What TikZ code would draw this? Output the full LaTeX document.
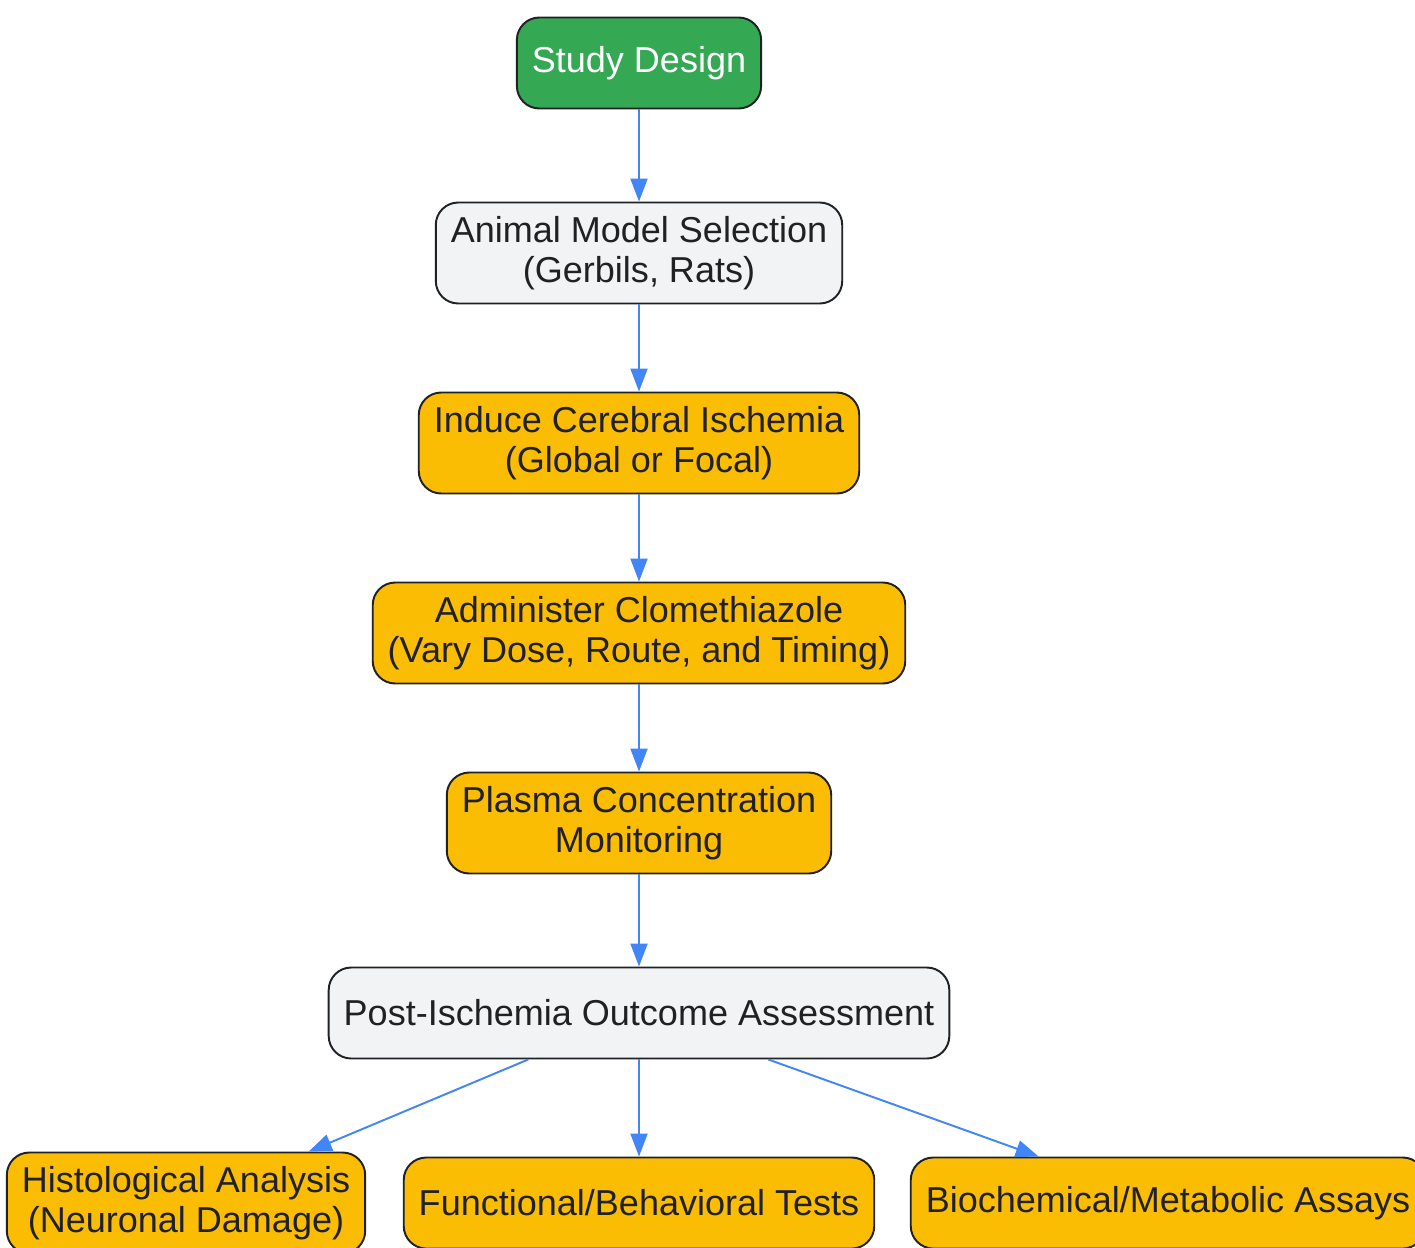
\documentclass[tikz,border=0pt]{standalone}
\usepackage{fontspec}
\setmainfont{Liberation Sans}
\usetikzlibrary{shapes.geometric, arrows.meta}
\definecolor{startgreen}{HTML}{34A853}
\definecolor{stepgray}{HTML}{F1F3F4}
\definecolor{steporange}{HTML}{FBBC04}
\definecolor{inkdark}{HTML}{202124}
\definecolor{linkblue}{HTML}{4285F4}
\tikzstyle{base} = [rectangle, rounded corners=0.45cm, minimum height=1.82cm, inner xsep=0.3cm, text centered, draw=inkdark, line width=1.1pt, text=inkdark, font=\fontsize{20.5pt}{23pt}\selectfont]
\tikzstyle{startstop} = [base, fill=startgreen, text=white]
\tikzstyle{stage} = [base, fill=stepgray]
\tikzstyle{process} = [base, fill=steporange]
\tikzstyle{twoline} = [align=center, minimum height=2.02cm]
\tikzstyle{arrow} = [line width=1.1pt, draw=linkblue, -{Triangle[length=0.46cm, width=0.34cm, fill=linkblue]}]

\begin{document}
\begin{tikzpicture}[node distance=3.8cm]
		\useasboundingbox (0,0) rectangle (28.3,-24.94);
		\node (start) [startstop] at (12.78,-1.26) {Study Design};
		\node (model) [stage, twoline, below of = start] {Animal Model Selection\\(Gerbils, Rats)};
		\node (induce) [process, twoline, below of = model] {Induce Cerebral Ischemia\\(Global or Focal)};
		\node (dose) [process, twoline, below of = induce] {Administer Clomethiazole\\(Vary Dose, Route, and Timing)};
		\node (plasma) [process, twoline, below of = dose] {Plasma Concentration\\Monitoring};
		\node (outcome) [stage, below of = plasma] {Post-Ischemia Outcome Assessment};
		\node (func) [process, below of = outcome] {Functional/Behavioral Tests};
		\node (histo) [process, twoline, left of = func, xshift = -5.26cm] {Histological Analysis\\(Neuronal Damage)};
		\node (assay) [process, right of = func, xshift = 6.78cm] {Biochemical/Metabolic Assays};
		\draw [arrow] (start) -- (model);
		\draw [arrow] (model) -- (induce);
		\draw [arrow] (induce) -- (dose);
		\draw [arrow] (dose) -- (plasma);
		\draw [arrow] (plasma) -- (outcome);
		\draw [arrow] (outcome) -- (histo);
		\draw [arrow] (outcome) -- (func);
		\draw [arrow] (outcome) -- (assay);
	\end{tikzpicture}
\end{document}
